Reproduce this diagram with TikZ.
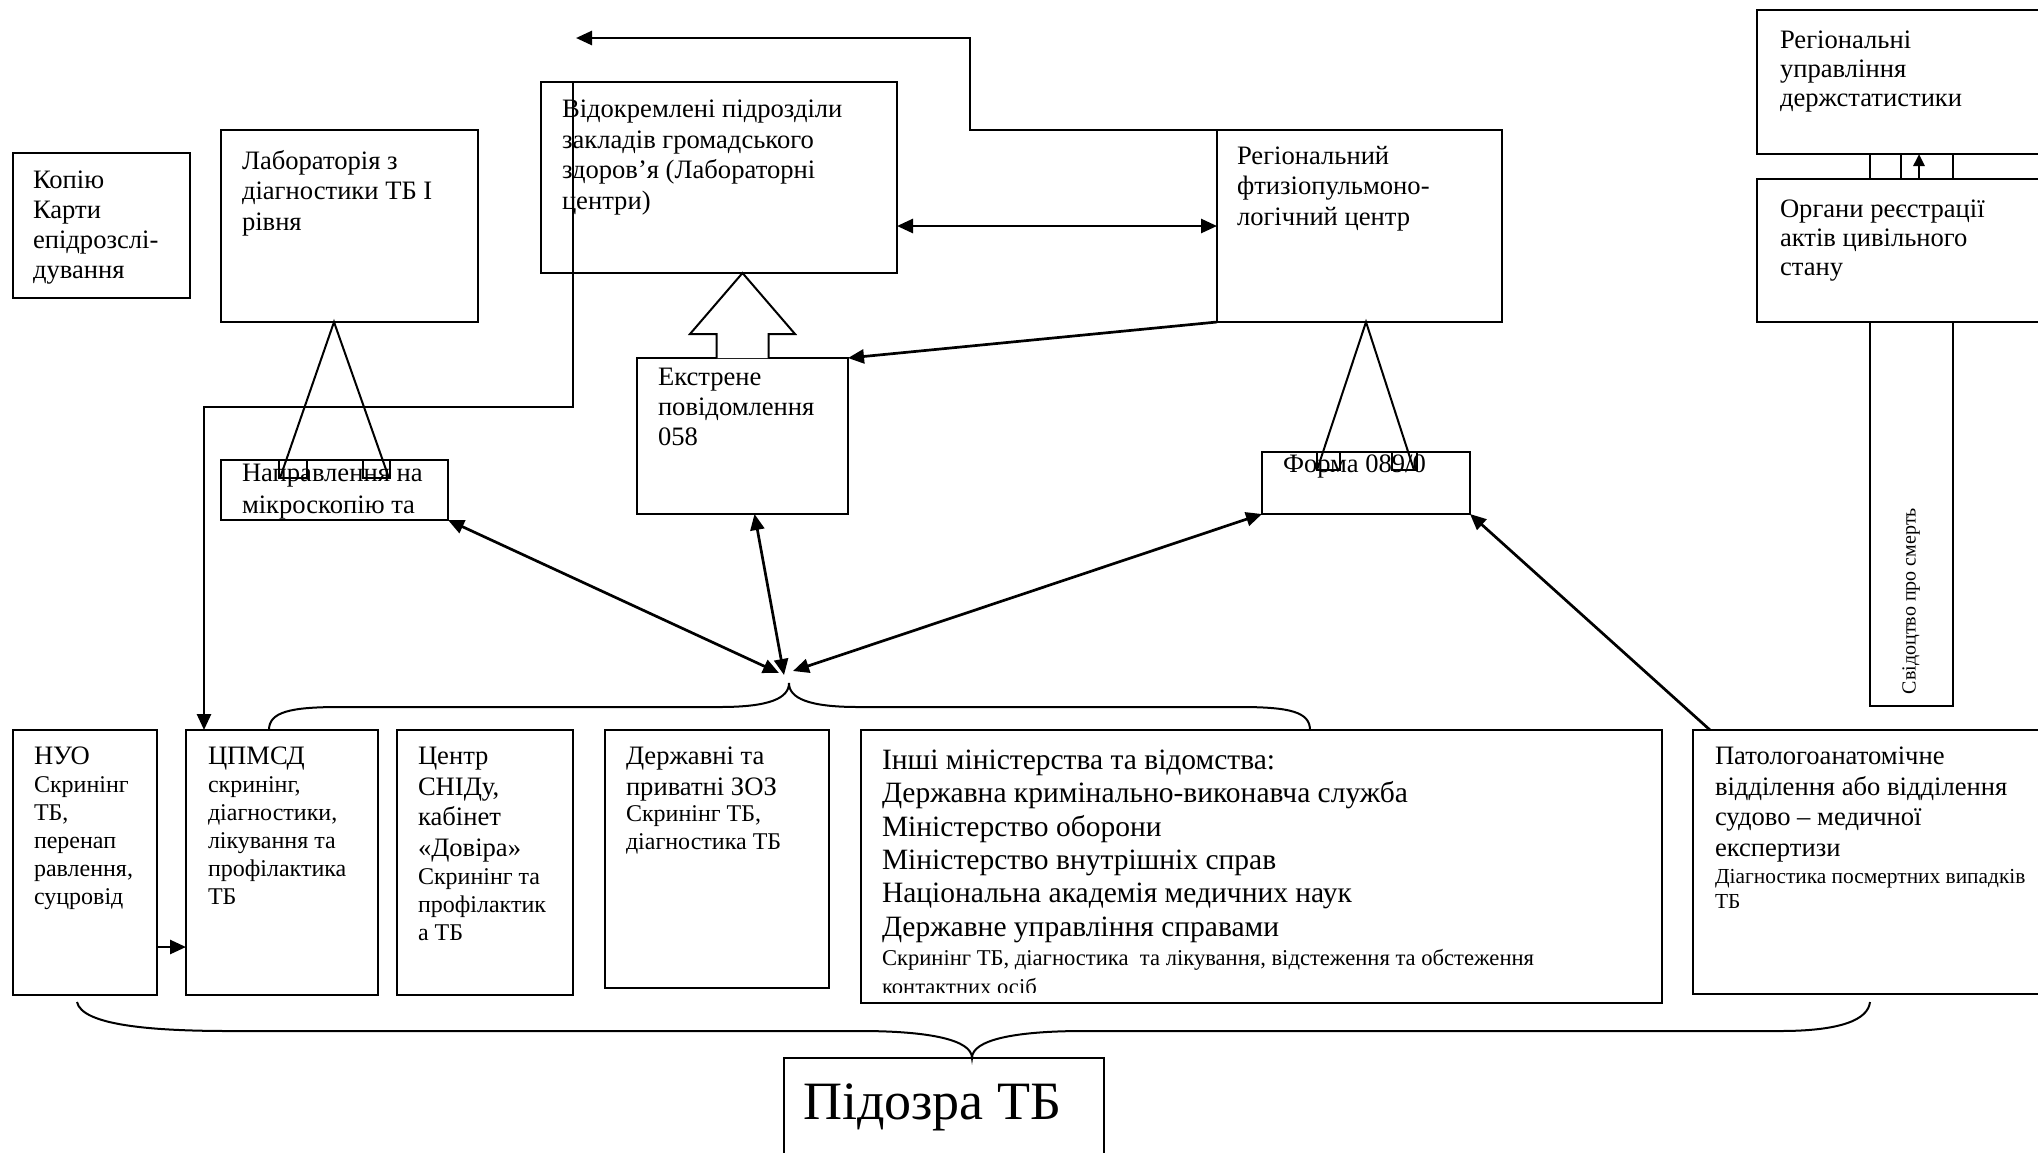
\documentclass[tikz,border=0pt]{standalone}
\usepackage{fontspec}
\setmainfont{Liberation Serif}
\usetikzlibrary{arrows.meta,fit,calc}
\newcommand\myTitle{\fontsize{13.3pt}{15.3pt}\selectfont}
\newcommand\mySub{\fontsize{12pt}{14pt}\selectfont}
\newcommand\myMain{\fontsize{14.75pt}{16.65pt}\selectfont}
\newcommand\mySmall{\fontsize{11.3pt}{14.5pt}\selectfont}
\newcommand\myPat{\fontsize{10.7pt}{12.5pt}\selectfont}
\newcommand\mySvid{\fontsize{10pt}{12pt}\selectfont}
\newcommand\myBig{\fontsize{27pt}{30pt}\selectfont}
\begin{document}
\begin{tikzpicture}[x=0.5pt,y=-0.5pt,
 box/.style={draw,line width=1pt,inner sep=0pt,outer sep=0pt},
 wbox/.style={box,fill=white},
 txt/.style={anchor=north west,inner sep=0pt,outer sep=0pt,align=left,font=\myTitle},
 subtxt/.style={txt,font=\mySub},
 ln/.style={line width=1pt},
 arr/.style={line width=1.35pt,-{Triangle[length=8pt,width=7pt]}},
 darr/.style={line width=1.35pt,{Triangle[length=8pt,width=7pt]}-{Triangle[length=8pt,width=7pt]}},
 brace/.style={line width=1pt}]
\path[use as bounding box,fill=white] (0,0) rectangle (2038,1152);

% ---------- upper boxes
\node[box,fit={(13,153) (190,298)}] (kopiyu) {};
\node[txt,font=\fontsize{13.3pt}{15pt}\selectfont] (kopiyut) at (33,171) {Копію\\Карти\\епідрозслі-\\дування};

\node[box,fit={(221,130) (478,322)}] (lab) {};
\node[txt] (labt) at (242,150) {Лабораторія з\\діагностики ТБ І\\рівня};

\node[box,fit={(541,82) (897,273)}] (vidokr) {};
\node[txt] (vidokrt) at (562,100) {Відокремлені підрозділи\\закладів громадського\\здоров’я (Лабораторні\\центри)};

\node[box,fit={(1217,130) (1502,322)}] (regfti) {};
\node[txt] (regftit) at (1237,146) {Регіональний\\фтизіопульмоно-\\логічний центр};

\node[box,fit={(1870,154) (1953,706)}] (svid) {};
\node[rotate=90,inner sep=0pt,font=\mySvid] (svidt) at (1911,601) {Свідоцтво про смерть};

\node[wbox,fit={(1757,10) (2060,154)}] (regstat) {};
\node[txt,font=\fontsize{13.3pt}{14.5pt}\selectfont] (regstatt) at (1780,31) {Регіональні\\управління\\держстатистики};
\node[wbox,fit={(1757,179) (2060,322)}] (organy) {};
\node[txt,font=\fontsize{13.3pt}{14.5pt}\selectfont] (organyt) at (1780,200) {Органи реєстрації\\актів цивільного\\стану};
\draw[ln] ($(regstat.south west)+(144,0)$) -- ($(organy.north west)+(144,0)$);
\draw[line width=1.35pt,-{Triangle[length=6pt,width=5.5pt]}] ($(organy.north west)+(162,0)$) -- ($(regstat.south west)+(162,0)$);

% ---------- middle boxes
\node[box,fit={(221,460) (448,520)}] (napr) {};
\begin{scope}
\clip (napr.north west) rectangle (napr.south east);
\node[txt,font=\fontsize{13.3pt}{15.8pt}\selectfont] (naprt) at (242,464) {Направлення на\\мікроскопію та};
\end{scope}
\coordinate (labap) at ($(lab.south west)+(113,0)$);
\draw[ln] (279,460) rectangle (307,478) (363,460) rectangle (390,478);
\draw[ln] (280,478) -- (labap) -- (389,478);

\node[box,fit={(637,358) (848,514)}] (ekstr) {};
\node[txt,font=\fontsize{13.3pt}{15pt}\selectfont] (ekstrt) at (658,368) {Екстрене\\повідомлення\\058};
\draw[ln,fill=white] ($(ekstr.north)+(-26,0)$) -- ++(0,-24) -- ++(-26.5,0) -- (ekstr.north |- vidokr.south) -- ($(ekstr.north)+(52.5,-24)$) -- ++(-26.5,0) -- ++(0,24);

\node[box,fit={(1262,452) (1470,514)}] (forma) {};
\node[txt] (format) at (1283,455) {Форма 089/0};
\coordinate (ftiap) at ($(regfti.south west)+(149,0)$);
\draw[ln] (1317,452) rectangle (1340,470) (1392,452) rectangle (1417,470);
\draw[ln] (1317,470) -- (ftiap) -- (1414,470);

% ---------- bottom boxes
\node[box,fit={(13,730) (157,995)}] (nuo) {};
\node[txt] (nuot) at (34,747) {НУО};
\node[subtxt] (nuos) at (34,777) {Скринінг\\ТБ,\\перенап\\равлення,\\суцровід};

\node[box,fit={(186,730) (378,995)}] (cpmsd) {};
\node[txt] (cpmsdt) at (208,747) {ЦПМСД};
\node[subtxt] (cpmsds) at (208,777) {скринінг,\\діагностики,\\лікування та\\профілактика\\ТБ};

\node[box,fit={(397,730) (573,995)}] (snid) {};
\node[txt] (snidt) at (418,747) {Центр\\СНІДу,\\кабінет\\«Довіра»};
\node[subtxt] (snids) at (418,869) {Скринінг та\\профілактик\\а ТБ};

\node[box,fit={(605,730) (829,988)}] (derzh) {};
\node[txt] (derzht) at (626,747) {Державні та\\приватні ЗОЗ};
\node[subtxt] (derzhs) at (626,806) {Скринінг ТБ,\\діагностика ТБ};

\node[box,fit={(861,730) (1662,1003)}] (inshi) {};
\node[txt,font=\myMain] (inshit) at (882,750) {Інші міністерства та відомства:\\Державна кримінально-виконавча служба\\Міністерство оборони\\Міністерство внутрішніх справ\\Національна академія медичних наук\\Державне управління справами};
\begin{scope}
\clip (inshi.north west) rectangle (1662,992);
\node[txt,font=\mySmall] (inshis) at (882,949) {Скринінг ТБ, діагностика~ та лікування, відстеження та обстеження\\контактних осіб};
\end{scope}

\node[box,fit={(1693,730) (2060,994)}] (pato) {};
\node[txt] (patot) at (1715,747) {Патологоанатомічне\\відділення або відділення\\судово – медичної\\експертизи};
\node[txt,font=\myPat] (patos) at (1715,869) {Діагностика посмертних випадків\\ТБ};

\node[box,fit={(784,1058) (1104,1180)}] (pidozra) {};
\node[txt,font=\myBig] (pidozrat) at (803,1084) {Підозра ТБ};

% ---------- connectors
\coordinate (k1) at (204,407);
\draw[arr] ($(vidokr.north west)+(32,0)$) |- (k1) -- (k1 |- cpmsd.north);

\coordinate (tcorner) at (970,38);
\coordinate (topend) at (576,38);
\draw[arr] (regfti.north) -| (tcorner) -- (topend);

\draw[darr] (regfti.west -| vidokr.east) -- (regfti.west);
\draw[arr] (regfti.south west) -- (ekstr.north east);

\coordinate (cA) at (779,673);
\coordinate (cB) at (784,675);
\coordinate (cC) at (793,671);
\draw[darr] (napr.south east) -- (cA);
\draw[darr] ($(ekstr.south)+(12,0)$) -- (cB);
\draw[darr] (forma.south west) -- (cC);
\draw[arr] ($(pato.north west)+(17,0)$) -- (forma.south east);

\coordinate (y947) at (0,947);
\draw[arr] (nuo.east |- y947) -- (cpmsd.west |- y947);

% ---------- braces
\draw[brace] ($(cpmsd.north west)+(83,0)$) .. controls (269,712) and (290,707) .. (340,707) -- (720,707) .. controls (770,707) and (789,698) .. (789,683) .. controls (789,698) and (808,707) .. (858,707) -- (1240,707) .. controls (1290,707) and (1310,712) .. ($(inshi.north west)+(449,0)$);
\draw[brace] (77,1002) .. controls (82,1025) and (150,1031) .. (230,1031) -- (860,1031) .. controls (930,1031) and (972,1040) .. ($(pidozra.north west)+(188,0)$) .. controls (972,1040) and (1014,1031) .. (1084,1031) -- (1780,1031) .. controls (1840,1031) and (1868,1020) .. (1870,1002);
\end{tikzpicture}
\end{document}
